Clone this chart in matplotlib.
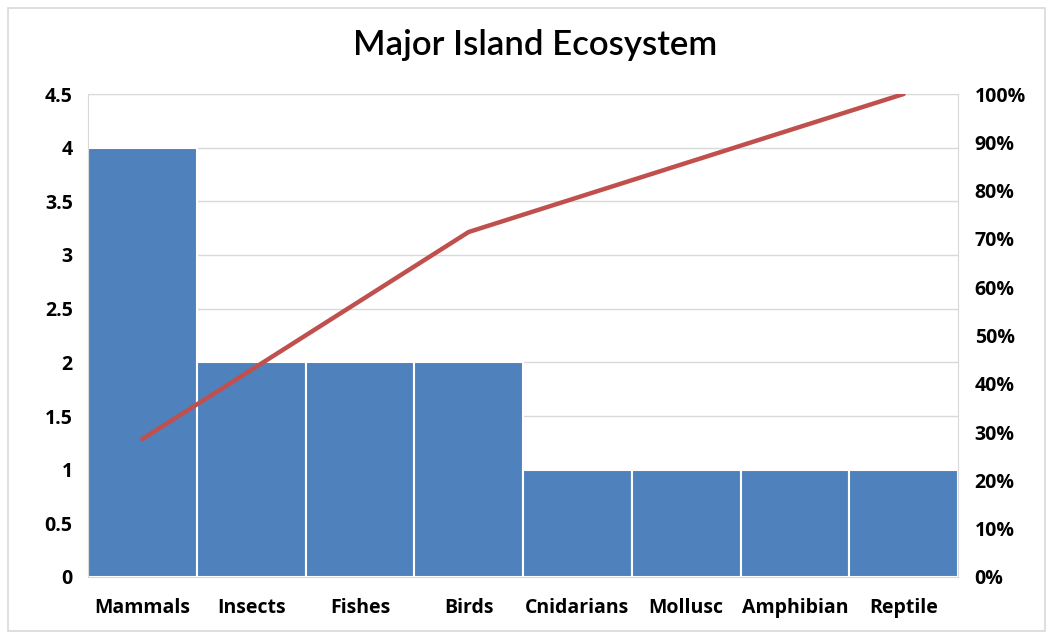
import matplotlib.pyplot as plt
from matplotlib.patches import Rectangle
from matplotlib.ticker import FuncFormatter

plt.rcParams['font.family'] = ['Open Sans', 'DejaVu Sans']

species = ["Mammals", "Insects", "Fishes", "Birds", "Cnidarians", "Mollusc", "Amphibian", "Reptile"]
counts = [4, 2, 2, 2, 1, 1, 1, 1]

# running share of the total, for the Pareto line
total = sum(counts)
cum_pct = []
running = 0
for c in counts:
    running += c
    cum_pct.append(running / total)

fig = plt.figure(figsize=(10.53, 6.34), dpi=100)
ax = fig.add_axes([88 / 1053, 1 - 577 / 634, 870 / 1053, 483 / 634])

x = list(range(len(species)))
ax.bar(x, counts, width=1.0, color="#4F81BD", edgecolor="white", linewidth=1.5, zorder=2)
ax.set_xlim(-0.5, len(species) - 0.5)
ax.set_ylim(0, 4.5)
ax.set_yticks([0, 0.5, 1, 1.5, 2, 2.5, 3, 3.5, 4, 4.5])
ax.set_yticklabels(["0", "0.5", "1", "1.5", "2", "2.5", "3", "3.5", "4", "4.5"])
ax.set_xticks(x)
ax.set_xticklabels(species)
ax.grid(axis="y", color="#D9D9D9", linewidth=1, zorder=0)
ax.set_axisbelow(True)
ax.tick_params(axis="y", length=0, labelsize=14, pad=11)
ax.tick_params(axis="x", length=0, labelsize=14, pad=15)
for lbl in ax.get_xticklabels() + ax.get_yticklabels():
    lbl.set_fontweight("bold")
for s in ax.spines.values():
    s.set_color("#D9D9D9")

ax2 = ax.twinx()
ax2.plot(x, cum_pct, color="#C0504D", linewidth=3.2, solid_capstyle="round", zorder=3)
ax2.set_ylim(0, 1.0)
ax2.set_yticks([i / 10 for i in range(11)])
ax2.yaxis.set_major_formatter(FuncFormatter(lambda v, p: f"{round(v * 100)}%"))
ax2.tick_params(length=0, labelsize=14, pad=12)
for lbl in ax2.get_yticklabels():
    lbl.set_fontweight("bold")
for s in ax2.spines.values():
    s.set_visible(False)

fig.text(0.508, 1 - 45 / 634, "Major Island Ecosystem", ha="center", va="center",
         fontsize=25, family=["Lato", "DejaVu Sans"], fontweight="semibold")

# chart area frame
fig.patches.append(Rectangle((8 / 1053, 0.004), 1 - 16 / 1053, 1 - 8 / 634 - 0.004,
                             transform=fig.transFigure, fill=False, edgecolor="#D9D9D9", linewidth=1.2))

fig.savefig("out.png", dpi=100)
